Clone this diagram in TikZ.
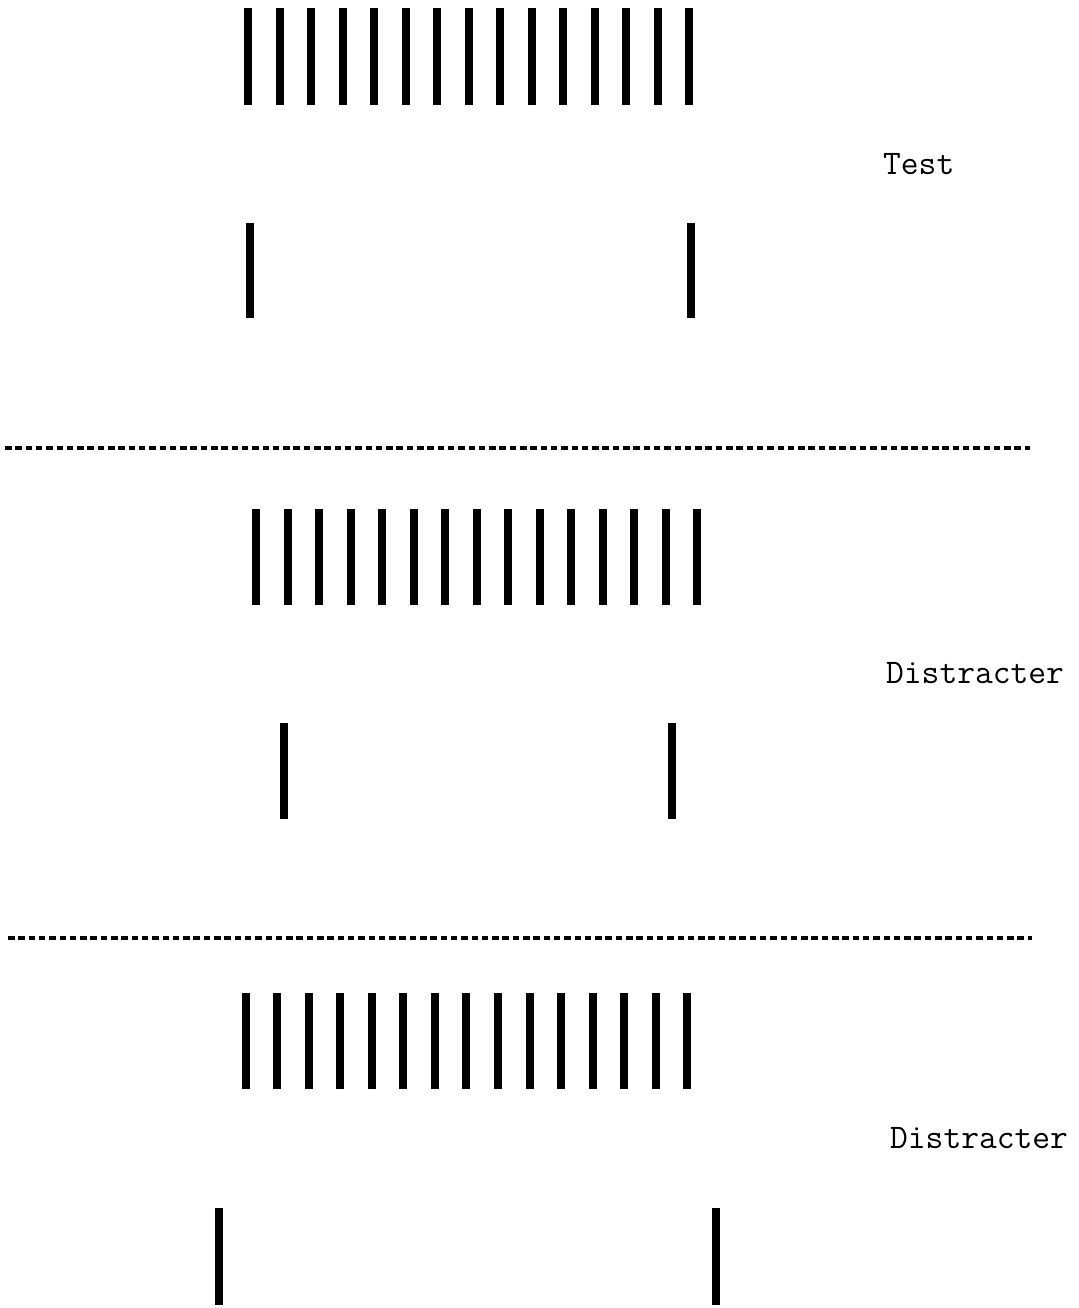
\documentclass[tikz,border=0pt]{standalone}
\begin{document}
\begin{tikzpicture}[x=1pt,y=-1pt,
  bar/.style={fill=black},
  divider/.style={line width=3.2pt,dash pattern=on 6.5pt off 3.8pt},
  caption/.style={anchor=base west,inner sep=0pt,font=\ttfamily\fontsize{34.5}{40}\selectfont}]
  \useasboundingbox (0,0) rectangle (1078,1308);
  % grating of 15 bars: first centre, spacing, top, bottom
  \newcommand{\grating}[4]{%
    \foreach \k in {0,...,14}{%
      \fill[bar] ({#1+\k*#2-4},#3) rectangle ({#1+\k*#2+4},#4);}}
  % pair of flanking bars: left centre, right centre, top, bottom
  \newcommand{\flankpair}[4]{%
    \fill[bar] (#1-4,#3) rectangle (#1+4,#4);
    \fill[bar] (#2-4,#3) rectangle (#2+4,#4);}

  % test panel
  \grating{248.3}{31.5}{8}{105}
  \flankpair{250}{691}{223}{318}
  \node[caption] (test) at (883,175) {Test};

  \coordinate (d1a) at (5,448);
  \coordinate (d1b) at (1030,448);
  \draw[divider] (d1a) -- (d1b);

  % first distracter panel
  \grating{256}{31.5}{509}{605}
  \flankpair{284}{672}{723}{819}
  \node[caption] (dis1) at (886,683) {Distracter};

  \coordinate (d2a) at (8,938);
  \coordinate (d2b) at (1032,938);
  \draw[divider] (d2a) -- (d2b);

  % second distracter panel
  \grating{245.7}{31.54}{993}{1089}
  \flankpair{219}{716}{1208}{1305}
  \node[caption] (dis2) at (890,1148) {Distracter};
\end{tikzpicture}
\end{document}
